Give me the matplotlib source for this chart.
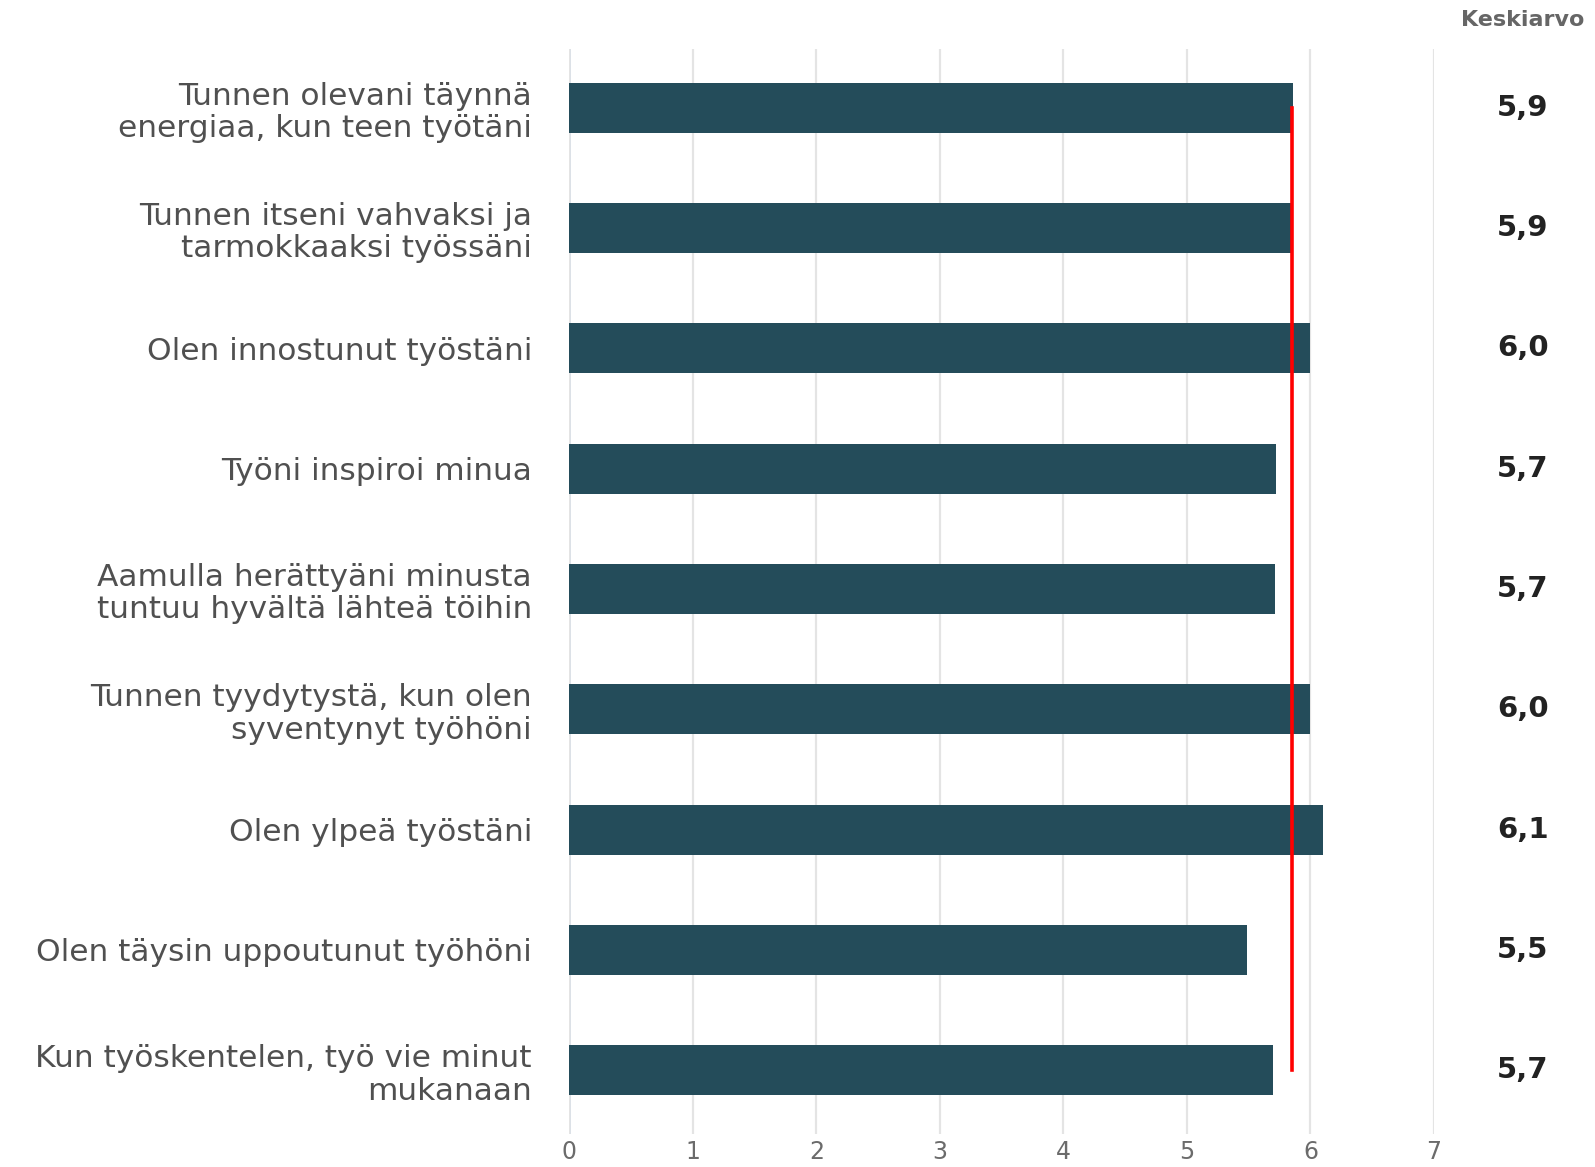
import numpy as np
import matplotlib.pyplot as plt

# Survey statements (work engagement) and their mean scores on a 0-7 scale
statements = [
    "Tunnen olevani täynnä\nenergiaa, kun teen työtäni",
    "Tunnen itseni vahvaksi ja\ntarmokkaaksi työssäni",
    "Olen innostunut työstäni",
    "Työni inspiroi minua",
    "Aamulla herättyäni minusta\ntuntuu hyvältä lähteä töihin",
    "Tunnen tyydytystä, kun olen\nsyventynyt työhöni",
    "Olen ylpeä työstäni",
    "Olen täysin uppoutunut työhöni",
    "Kun työskentelen, työ vie minut\nmukanaan",
]
means = [5.86, 5.86, 6.0, 5.72, 5.71, 6.0, 6.1, 5.49, 5.7]
overall_mean = 5.85
x_ticks = [0, 1, 2, 3, 4, 5, 6, 7]

bar_color = "#244c5a"
plt.rcParams["font.family"] = ["DejaVu Sans"]

fig = plt.figure(figsize=(15.95, 11.67), dpi=100)
ax = fig.add_axes([0.357, 0.0283, 0.542, 0.930])

y = np.arange(len(statements))
ax.barh(y, means, height=0.416, color=bar_color, zorder=3)

# overall average as a red vertical line
ax.plot([overall_mean, overall_mean], [y[0], y[-1]], color="#ff0000", lw=2.6, zorder=4)

ax.set_xlim(0, 7)
ax.set_ylim(len(statements) - 1 + 0.53, -0.49)
ax.set_xticks(x_ticks)
ax.set_xticklabels([str(t) for t in x_ticks])
ax.set_yticks(y)
ax.set_yticklabels(statements, fontsize=22.5, color="#505050", linespacing=1.15)
ax.tick_params(axis="y", length=0, pad=27)
ax.tick_params(axis="x", length=0, pad=4, labelsize=17, labelcolor="#6b6b6b")

ax.grid(axis="x", color="#e4e4e4", lw=1.6, zorder=0)
ax.axvline(0, color="#d8dee6", lw=2, zorder=1)
for s in ax.spines.values():
    s.set_visible(False)

# mean values in a column to the right
trans = ax.get_yaxis_transform()
for yi, m in zip(y, means):
    ax.text(1.103, yi, f"{m:.1f}".replace(".", ","), transform=trans,
            ha="center", va="center", fontsize=21, fontweight="bold",
            color="#222222", clip_on=False)

fig.text(0.9545, 0.983, "Keskiarvo", ha="center", va="center",
         fontsize=16, fontweight="bold", color="#666666")

fig.savefig("out.png", dpi=100, facecolor="white")
